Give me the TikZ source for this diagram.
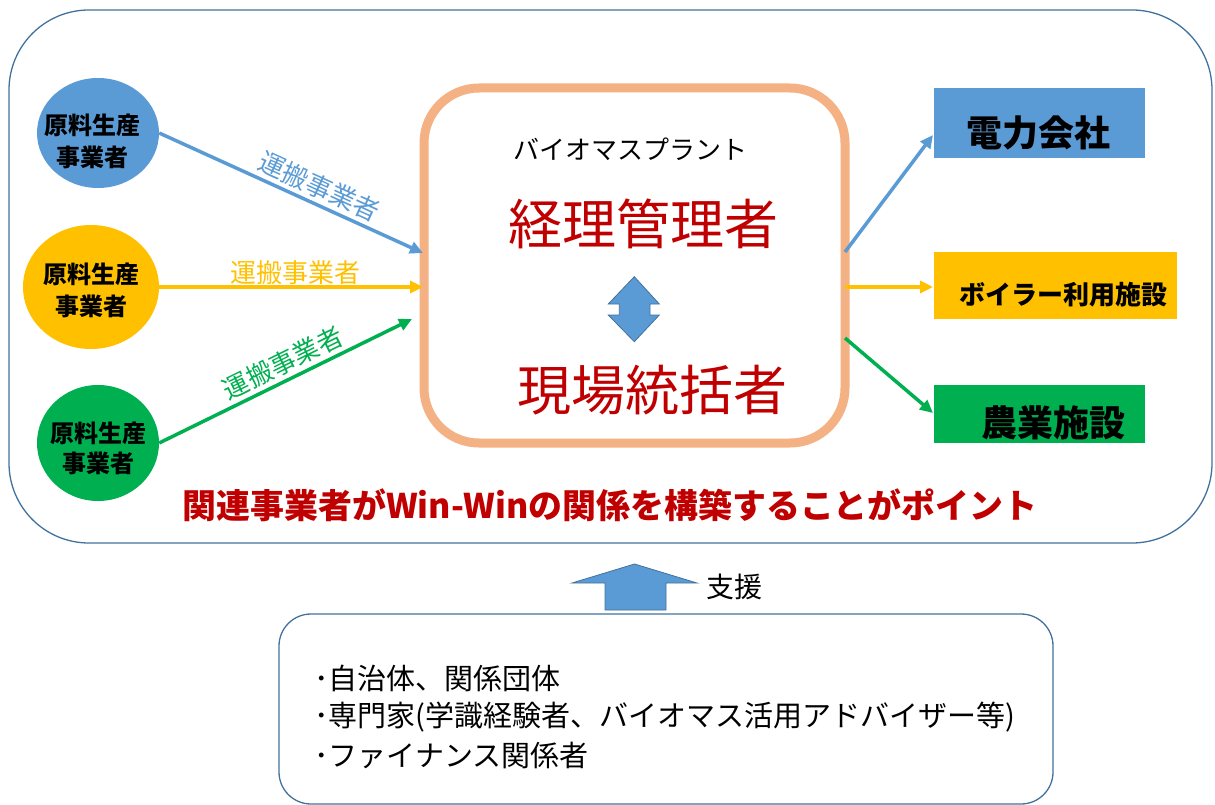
\documentclass[tikz,border=0pt]{standalone}
\usepackage{fontspec}
\setmainfont{Noto Sans CJK JP}
\usetikzlibrary{arrows.meta,shapes.geometric}
\definecolor{cblue}{HTML}{5B9BD5}
\definecolor{cyellow}{HTML}{FFC000}
\definecolor{cgreen}{HTML}{00B050}
\definecolor{corange}{HTML}{F4B183}
\definecolor{cred}{HTML}{C00000}
\definecolor{cline}{HTML}{41719C}
\newcommand{\fs}[1]{\fontsize{#1}{#1}\selectfont}
\begin{document}
\begin{tikzpicture}[x=1pt,y=-1pt,
  frame/.style={draw=cline, line width=1.3pt, rounded corners=#1, inner sep=0pt},
  producer/.style={ellipse, fill=#1, inner sep=0pt},
  prodtext/.style={align=center, font=\fs{24}\bfseries, text=black, inner sep=0pt},
  conn/.style={line width=3.5pt, draw=#1, -{Triangle[length=13pt,width=12pt]}},
  carrier/.style={sloped, above, font=\fs{26}, text=#1, inner sep=2pt},
  target/.style={fill=#1, inner sep=0pt, anchor=north west},
  blockarrow/.style={fill=cblue, draw=cline, line width=0.8pt}
]
\useasboundingbox (0,0) rectangle (1215,805);

% outer frame
\node[frame=80pt, minimum width=1203pt, minimum height=533pt] (outer) at (610.5,276.5) {};

% producers
\node[producer=cblue, minimum width=122pt, minimum height=110pt] (c1) at (98,133) {};
\node[prodtext, xshift=-6pt, yshift=-8pt] (t1) at (c1) {原料生産\\[8pt]事業者};
\node[producer=cyellow, minimum width=136pt, minimum height=124pt] (c2) at (91,287) {};
\node[prodtext, yshift=-3pt] (t2) at (c2) {原料生産\\[8pt]事業者};
\node[producer=cgreen, minimum width=122pt, minimum height=116pt] (c3) at (98,443) {};
\node[prodtext, yshift=-5pt] (t3) at (c3) {原料生産\\[6pt]事業者};

% central plant box
\node[draw=corange, line width=9pt, rounded corners=55pt, fill=white,
      minimum width=421pt, minimum height=355pt, inner sep=0pt] (cb) at (634.5,265.5) {};
\node[font=\fs{26}, inner sep=0pt] (plant) at (630,149) {バイオマスプラント};
\node[font=\fs{54}, text=cred, inner sep=0pt] (mgr) at (643,224) {経理管理者};
\node[font=\fs{54}, text=cred, inner sep=0pt] (site) at (652,390) {現場統括者};
\filldraw[blockarrow] (634.3,276.7) -- (659.3,304) -- (650,304) -- (650,315) -- (659.3,315)
  -- (634.3,341.7) -- (608.3,315) -- (619.3,315) -- (619.3,304) -- (608.3,304) -- cycle;

% input arrow ends
\coordinate (in1) at (423,253);
\coordinate (in2) at (423,287);
\coordinate (in3) at (412,319);
\draw[conn=cblue] (c1.east) -- node[carrier=cblue, pos=0.58, inner sep=4pt] (l1) {運搬事業者} (in1);
\draw[conn=cyellow] (c2.east) -- node[carrier=cyellow, pos=0.515, inner sep=1pt] (l2) {運搬事業者} (in2);
\draw[conn=cgreen] (c3.east) -- node[carrier=cgreen, pos=0.52, inner sep=4pt] (l3) {運搬事業者} (in3);

% targets
\node[target=cblue, minimum width=211pt, minimum height=70pt] (pw) at (934,88) {};
\node[font=\fs{36}\bfseries, inner sep=0pt] (pwt) at (1038,133) {電力会社};
\node[target=cyellow, minimum width=243pt, minimum height=67pt] (bl) at (934,252) {};
\node[font=\fs{26}\bfseries, inner sep=0pt] (blt) at (1063,295) {ボイラー利用施設};
\node[target=cgreen, minimum width=211pt, minimum height=58pt] (ag) at (934,385) {};
\node[font=\fs{36}\bfseries, inner sep=0pt] (agt) at (1053,423) {農業施設};

\coordinate (o1) at (845,252);
\coordinate (o2) at (845,287);
\coordinate (o3) at (845,338);
\coordinate (e1) at (933,135);
\coordinate (e2) at (933,287);
\coordinate (e3) at (933,413);
\draw[conn=cblue] (o1) -- (e1);
\draw[conn=cyellow] (o2) -- (e2);
\draw[conn=cgreen] (o3) -- (e3);

% key message
\node[font=\fs{33}\bfseries, text=cred, inner sep=0pt] (msg) at (610,505)
  {\resizebox{855pt}{!}{関連事業者がWin-Winの関係を構築することがポイント}};

% support arrow
\filldraw[blockarrow] (634.5,564) -- (697,583) -- (666,583) -- (666,610) -- (605,610)
  -- (605,583) -- (572,583) -- cycle;
\node[font=\fs{28}, inner sep=0pt] (sup) at (734,587) {支援};

% support box
\node[frame=32pt, minimum width=774pt, minimum height=190pt] (sbox) at (666,709) {};
\node[font=\fs{29}, anchor=west, inner sep=0pt] (s1) at (314,678) {･自治体、関係団体};
\node[font=\fs{29}, anchor=west, inner sep=0pt] (s2) at (314,717) {･専門家(学識経験者、バイオマス活用アドバイザー等)};
\node[font=\fs{29}, anchor=west, inner sep=0pt] (s3) at (314,755) {･ファイナンス関係者};
\end{tikzpicture}
\end{document}
